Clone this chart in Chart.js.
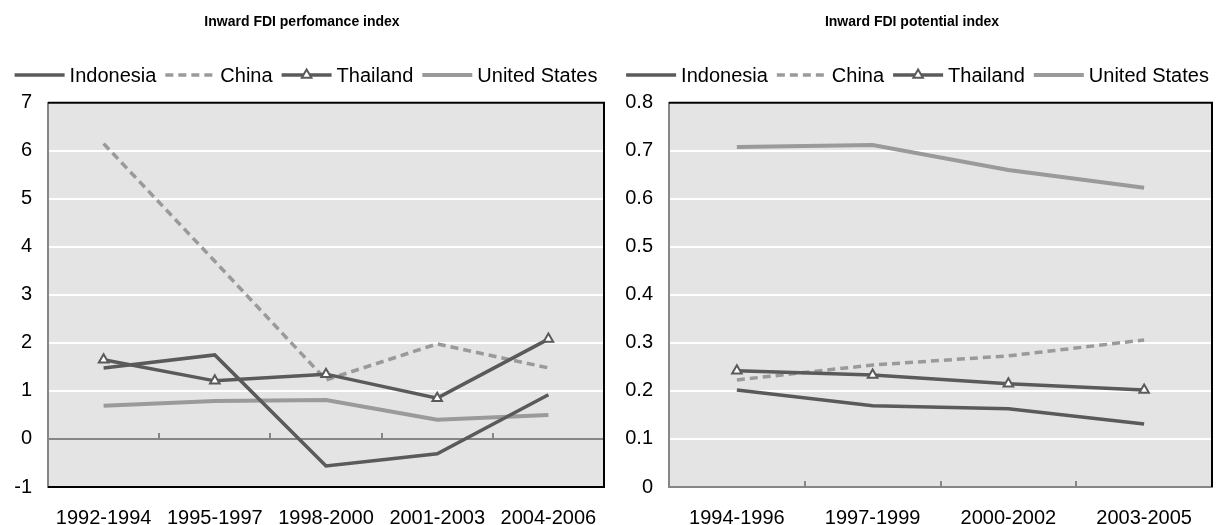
<!DOCTYPE html>
<html>
<head>
<meta charset="utf-8">
<script src="https://cdn.jsdelivr.net/npm/chart.js@4/dist/chart.umd.min.js"></script>
<style>
  body { margin: 0; background: #fff; }
  .panel { position: absolute; top: 0; }
</style>
</head>
<body>
<div class="panel" style="left:0"><canvas id="perfChart" width="612" height="525"></canvas></div>
<div class="panel" style="left:612px"><canvas id="potChart" width="611" height="525"></canvas></div>
<script>
// categories
const perfPeriods = ["1992-1994", "1995-1997", "1998-2000", "2001-2003", "2004-2006"];
const potPeriods = ["1994-1996", "1997-1999", "2000-2002", "2003-2005"];

// inward FDI performance index
const perfIndonesia = [1.48, 1.75, -0.56, -0.31, 0.92];
const perfChina = [6.15, 3.7, 1.23, 1.98, 1.48];
const perfThailand = [1.65, 1.21, 1.35, 0.85, 2.08];
const perfUS = [0.69, 0.79, 0.81, 0.4, 0.5];

// inward FDI potential index
const potIndonesia = [0.202, 0.169, 0.163, 0.131];
const potChina = [0.223, 0.254, 0.273, 0.306];
const potThailand = [0.242, 0.233, 0.215, 0.202];
const potUS = [0.708, 0.712, 0.66, 0.623];

const FONT = "'Liberation Sans', Arial, sans-serif";
const DARK = "#5a5a5a";
const LIGHT = "#9a9a9a";
const AXIS = "#868686";

// plot background + black frame, Excel style
const plotFrame = {
  id: "plotFrame",
  beforeDraw(chart) {
    const a = chart.chartArea, ctx = chart.ctx;
    ctx.save();
    ctx.fillStyle = "#e4e4e4";
    ctx.fillRect(a.left, a.top, a.right - a.left, a.bottom - a.top);
    ctx.restore();
  },
  beforeDatasetsDraw(chart, args, opts) {
    const a = chart.chartArea, ctx = chart.ctx;
    ctx.save();
    ctx.strokeStyle = "#000";
    ctx.lineWidth = 2;
    ctx.beginPath();
    ctx.moveTo(a.left, a.top);
    ctx.lineTo(a.right, a.top);
    ctx.lineTo(a.right, a.bottom);
    if (opts.bottom) ctx.lineTo(a.left, a.bottom);
    ctx.stroke();
    ctx.restore();
  }
};

// legend with line samples like the original
const lineLegend = {
  id: "lineLegend",
  afterDraw(chart) {
    const ctx = chart.ctx;
    const sets = chart.data.datasets;
    const lineLen = 50, textGap = 5, itemGap = 9, y = 75;
    ctx.save();
    ctx.font = "20px " + FONT;
    const widths = sets.map(d => ctx.measureText(d.label).width);
    let total = widths.reduce((s, w) => s + w, 0) + sets.length * (lineLen + textGap) + (sets.length - 1) * itemGap;
    let x = (chart.width - total) / 2;
    sets.forEach((d, i) => {
      ctx.strokeStyle = d.borderColor;
      ctx.lineWidth = d.borderWidth;
      ctx.setLineDash(d.borderDash || []);
      ctx.beginPath();
      ctx.moveTo(x, y);
      ctx.lineTo(x + lineLen, y);
      ctx.stroke();
      ctx.setLineDash([]);
      if (d.pointRadius > 0) {
        const cx = x + lineLen / 2, r = d.pointRadius;
        ctx.fillStyle = d.pointBackgroundColor;
        ctx.strokeStyle = d.pointBorderColor;
        ctx.lineWidth = d.pointBorderWidth;
        ctx.beginPath();
        ctx.moveTo(cx, y - r);
        ctx.lineTo(cx + r * 0.87, y + r * 0.5);
        ctx.lineTo(cx - r * 0.87, y + r * 0.5);
        ctx.closePath();
        ctx.fill();
        ctx.stroke();
      }
      ctx.fillStyle = "#000";
      ctx.textBaseline = "middle";
      ctx.fillText(d.label, x + lineLen + textGap, y + 1);
      x += lineLen + textGap + widths[i] + itemGap;
    });
    ctx.restore();
  }
};

function makeSets(ind, chn, tha, us) {
  return [
    { label: "Indonesia", data: ind, borderColor: DARK, borderWidth: 3.5, pointRadius: 0, order: 1 },
    { label: "China", data: chn, borderColor: LIGHT, borderWidth: 3.5, borderDash: [8, 5], pointRadius: 0, order: 3 },
    { label: "Thailand", data: tha, borderColor: DARK, borderWidth: 3.5, pointStyle: "triangle",
      pointRadius: 5.5, pointBackgroundColor: "#fff", pointBorderColor: DARK, pointBorderWidth: 2, order: 0 },
    { label: "United States", data: us, borderColor: LIGHT, borderWidth: 4, pointRadius: 0, order: 4 }
  ];
}

function makeChart(el, cfg) {
  return new Chart(el, {
    type: "line",
    data: { labels: cfg.labels, datasets: cfg.datasets },
    options: {
      responsive: false,
      animation: false,
      devicePixelRatio: 1,
      layout: { padding: { left: 0, right: cfg.padRight, top: 0, bottom: 0 } },
      elements: { line: { tension: 0 } },
      plugins: {
        legend: { display: false },
        tooltip: { enabled: false },
        title: {
          display: true,
          text: cfg.title,
          color: "#000",
          font: { family: FONT, size: 14, weight: "bold" },
          padding: { top: 14, bottom: 72 }
        },
        plotFrame: { bottom: cfg.frameBottom }
      },
      scales: {
        x: {
          type: "category",
          offset: true,
          grid: { display: false, drawTicks: false },
          border: { display: !cfg.frameBottom, color: AXIS, width: 2 },
          ticks: { color: "#000", font: { family: FONT, size: 20 }, padding: 19, maxRotation: 0, autoSkip: false },
          afterFit: s => { s.height = 38; s.paddingLeft = 0; s.paddingRight = 0; }
        },
        xt: {
          type: "category",
          position: { y: 0 },
          offset: true,
          ticks: { display: false },
          border: { display: false },
          grid: { offset: true, drawOnChartArea: false, drawTicks: true, tickLength: -6, color: AXIS, lineWidth: 2 }
        },
        y: {
          min: cfg.yMin,
          max: cfg.yMax,
          ticks: { stepSize: cfg.step, color: "#000", font: { family: FONT, size: 20 }, padding: 16 },
          grid: {
            drawTicks: false,
            lineWidth: 2,
            color: c => (c.tick && Math.abs(c.tick.value) < 1e-9 && cfg.zeroLine) ? AXIS : "#fff"
          },
          border: { display: true, color: AXIS, width: 2 },
          afterFit: s => { s.width = cfg.yWidth; }
        }
      }
    },
    plugins: [plotFrame, lineLegend]
  });
}

makeChart(document.getElementById("perfChart"), {
  title: "Inward FDI perfomance index",
  labels: perfPeriods,
  datasets: makeSets(perfIndonesia, perfChina, perfThailand, perfUS),
  yMin: -1, yMax: 7, step: 1,
  yWidth: 48, padRight: 8,
  frameBottom: true, zeroLine: true
});

makeChart(document.getElementById("potChart"), {
  title: "Inward FDI potential index",
  labels: potPeriods,
  datasets: makeSets(potIndonesia, potChina, potThailand, potUS),
  yMin: 0, yMax: 0.8, step: 0.1,
  yWidth: 57, padRight: 11,
  frameBottom: false, zeroLine: false
});
</script>
</body>
</html>
